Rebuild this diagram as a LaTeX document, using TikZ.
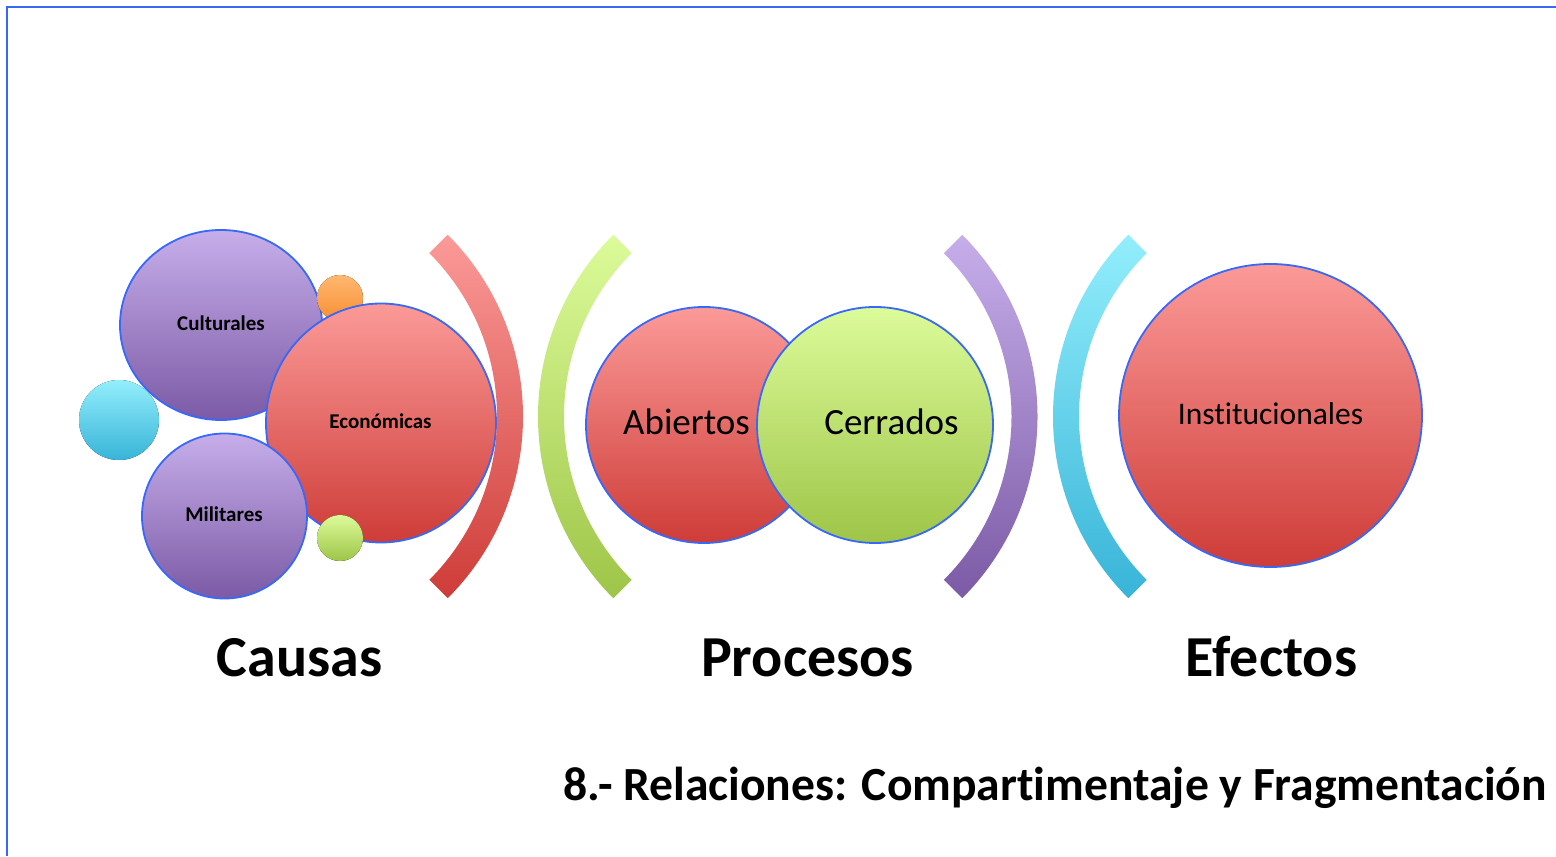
\documentclass[tikz,border=0pt]{standalone}
\usepackage{fontspec}
\setmainfont[Ligatures=NoCommon]{Carlito}
\definecolor{edgeblue}{RGB}{56,104,248}
\definecolor{redT}{RGB}{251,154,152}
\definecolor{redB}{RGB}{206,60,56}
\definecolor{purT}{RGB}{198,174,234}
\definecolor{purB}{RGB}{124,90,166}
\definecolor{grnT}{RGB}{220,251,154}
\definecolor{grnB}{RGB}{158,197,72}
\definecolor{cyaT}{RGB}{147,238,252}
\definecolor{cyaB}{RGB}{56,180,216}
\definecolor{orgT}{RGB}{255,184,112}
\definecolor{orgB}{RGB}{247,142,52}
\tikzset{
  bub/.style={draw=edgeblue, line width=1.8bp},
  redfill/.style={top color=redT, bottom color=redB},
  purfill/.style={top color=purT, bottom color=purB},
  grnfill/.style={top color=grnT, bottom color=grnB},
  cyafill/.style={top color=cyaT, bottom color=cyaB},
  orgfill/.style={top color=orgT, bottom color=orgB},
  smalltxt/.style={anchor=base, inner sep=0pt, font=\fontsize{21bp}{25bp}\selectfont\bfseries},
  midtxt/.style={anchor=base, inner sep=0pt, font=\fontsize{37bp}{44bp}\selectfont},
  insttxt/.style={anchor=base, inner sep=0pt, font=\fontsize{31.5bp}{38bp}\selectfont},
  headtxt/.style={anchor=base, inner sep=0pt, font=\fontsize{58bp}{68bp}\selectfont\bfseries},
  titletxt/.style={anchor=base, inner sep=0pt, font=\fontsize{47.6bp}{56bp}\selectfont\bfseries},
}
\newcommand{\bracketR}[3]{% center x, center y, style
  \path[#3] (#1,#2) ++(-45:257bp) arc[start angle=-45, end angle=45, radius=257bp]
    -- ++(225:26bp) arc[start angle=45, end angle=-45, radius=231bp] -- cycle;}
\newcommand{\bracketL}[3]{%
  \path[#3] (#1,#2) ++(135:257bp) arc[start angle=135, end angle=225, radius=257bp]
    -- ++(45:26bp) arc[start angle=225, end angle=135, radius=231bp] -- cycle;}
\begin{document}
\begin{tikzpicture}[x=1bp, y=1bp]
\useasboundingbox (0,0) rectangle (1556,856);
% frame
\draw[edgeblue, line width=2.2bp] (7,0) -- (7,849) -- (1556,849);
% causes cluster
\draw[bub, purfill] (221,531) ellipse [x radius=101, y radius=95];
\fill[orgfill] (340,558) circle [radius=23];
\draw[bub, redfill] (381,433) ellipse [x radius=115, y radius=119.5];
\fill[cyafill] (119,436) circle [radius=40];
\draw[bub, purfill] (224.5,340) circle [radius=82.5];
\fill[grnfill] (340,318) circle [radius=23];
\node[smalltxt] (cult) at (221,525) {Culturales};
\node[smalltxt] (econ) at (380.5,427) {Económicas};
\node[smalltxt] (mil) at (224,334) {Militares};
% brackets
\bracketR{266}{439.5}{redfill}
\bracketL{795}{439.5}{grnfill}
\bracketR{780.5}{439.5}{purfill}
\bracketL{1310}{439.5}{cyafill}
% processes
\draw[bub, redfill] (704,431) circle [radius=118];
\draw[bub, grnfill] (875,431) circle [radius=118];
\node[midtxt] (abi) at (686.5,421) {Abiertos};
\node[midtxt] (cer) at (891.5,421) {Cerrados};
% effects
\draw[bub, redfill] (1270.5,440.5) circle [radius=151.5];
\node[insttxt] (inst) at (1270.5,431) {Institucionales};
% headings
\node[headtxt] (causas) at (299.5,179) {Causas};
\node[headtxt] (procesos) at (807.5,179) {Procesos};
\node[headtxt] (efectos) at (1271.5,179) {Efectos};
\node[titletxt] (title) at (1055,56) {8.- Relaciones: Compartimentaje y Fragmentación};
\end{tikzpicture}
\end{document}
